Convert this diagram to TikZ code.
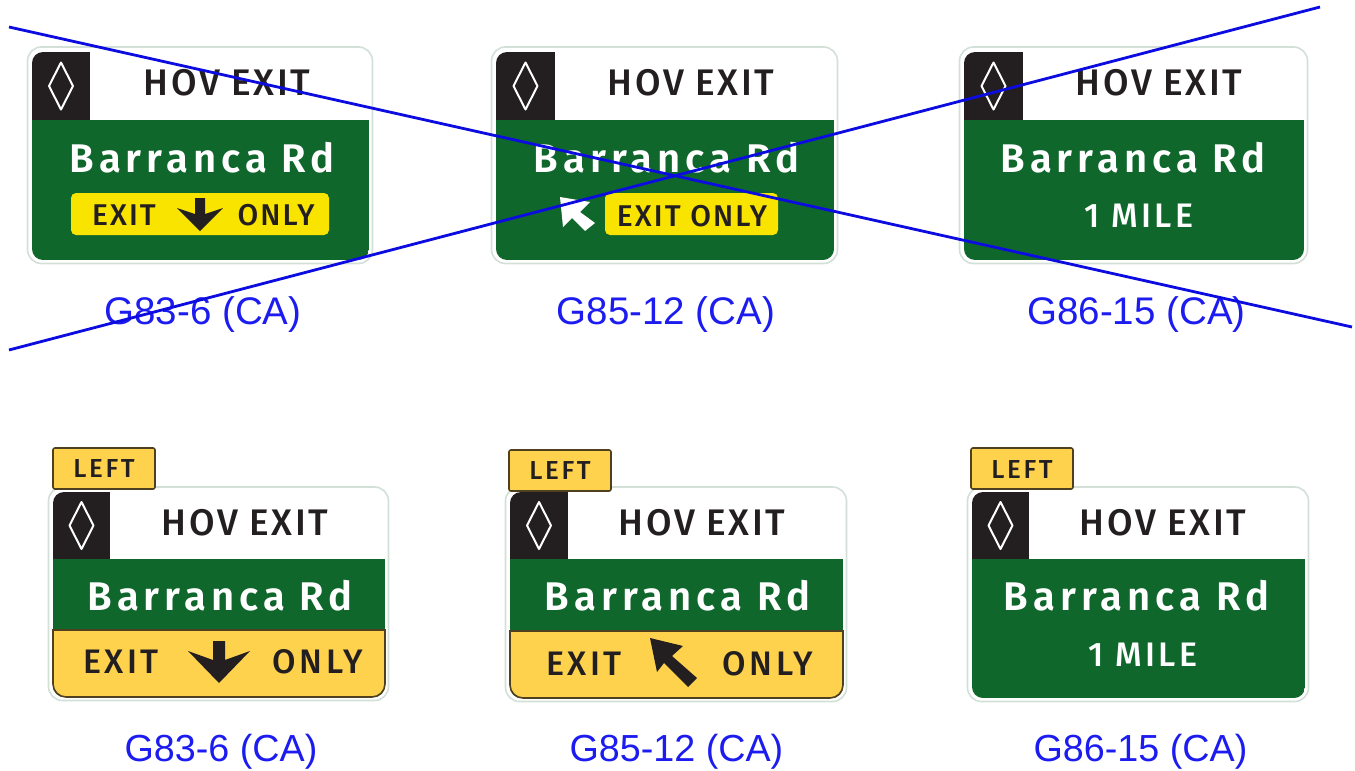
\documentclass[tikz,border=0pt]{standalone}
\usepackage{fontspec}
\setmainfont{Fira Sans Medium}
\newfontfamily\capfont{Liberation Sans}
\newfontfamily\roadfont{Fira Sans SemiBold}[LetterSpace=12.5]
\newfontfamily\hovfont{Fira Sans Medium}[LetterSpace=7]
\newfontfamily\smallfont{Fira Sans Medium}[LetterSpace=7]
\newfontfamily\widefont{Fira Sans Medium}[LetterSpace=10]
\definecolor{signgreen}{HTML}{0F672C}
\definecolor{signyellow}{HTML}{F9E400}
\definecolor{signamber}{HTML}{FFD24D}
\definecolor{signblack}{HTML}{231F20}
\definecolor{signedge}{HTML}{D3E0D8}
\definecolor{signbrown}{HTML}{4F4020}
\definecolor{capblue}{HTML}{1C1CF0}
\definecolor{crossblue}{HTML}{0C0CE0}
\tikzset{
  outerframe/.style={draw=signedge,line width=1.6pt,fill=white,rounded corners=14pt},
  hovtext/.style={anchor=base,inner sep=0pt,text=signblack,font=\hovfont\fontsize{37}{41}\selectfont},
  roadtext/.style={anchor=base,inner sep=0pt,text=white,font=\roadfont\fontsize{40}{44}\selectfont},
  exittext/.style={anchor=base,inner sep=0pt,text=signblack,font=\smallfont\fontsize{30}{34}\selectfont},
  exitlarge/.style={anchor=base,inner sep=0pt,text=signblack,font=\widefont\fontsize{34}{38}\selectfont},
  miletext/.style={anchor=base,inner sep=0pt,text=white,font=\widefont\fontsize{34}{38}\selectfont},
  lefttext/.style={anchor=base,inner sep=0pt,text=signblack,font=\widefont\fontsize{26}{29}\selectfont},
  captext/.style={anchor=base,inner sep=0pt,text=capblue,font=\capfont\fontsize{38.5}{42}\selectfont},
  captextlow/.style={anchor=base,inner sep=0pt,text=capblue,font=\capfont\fontsize{37.7}{42}\selectfont},
  crossline/.style={draw=crossblue,line width=2.8pt},
  yellowpanel/.style={fill=signyellow,rounded corners=5pt},
  tabbox/.style={fill=signamber,draw=signbrown,line width=1.6pt,rounded corners=2pt},
  hovdiamond/.style={draw=white,line width=2pt,line join=round},
}
% #1 x0, #2 y0, #3 x1, #4 y1, #5 right edge of the black box, #6 top of the green
\newcommand{\signbase}[6]{%
  \path[outerframe] (#1-4.5,#2-5) rectangle (#3+3.5,#4+3.5);
  \begin{scope}
    \clip[rounded corners=11pt] (#1,#2) rectangle (#3,#4);
    \fill[signgreen] (#1,#6) rectangle (#3,#4);
    \fill[signblack] (#1,#2) rectangle (#5,#6);
  \end{scope}
  \draw[hovdiamond] ({(#1+#5)/2},{(#2+#6)/2-23.5}) -- ({(#1+#5)/2+12},{(#2+#6)/2}) -- ({(#1+#5)/2},{(#2+#6)/2+23.5}) -- ({(#1+#5)/2-12},{(#2+#6)/2}) -- cycle;
}
% amber lower panel: #1 x0, #2 top, #3 x1, #4 bottom
\newcommand{\amberpanel}[4]{%
  \filldraw[fill=signamber,draw=signbrown,line width=1.6pt,rounded corners=13pt] (#1,#2) [sharp corners] -- (#1,#2) [rounded corners=13pt] -- (#1,#4) -- (#3,#4) [sharp corners] -- (#3,#2) -- cycle;
}
\begin{document}
\begin{tikzpicture}[x=1pt,y=-1pt]
\useasboundingbox (0,0) rectangle (1355,771);
\fill[white] (0,0) rectangle (1355,771);

% --- top row ---
\signbase{32}{52}{369}{260}{90}{120}
\node[hovtext] (hovA) at (227,95) {HOV EXIT};
\node[roadtext] (roadA) at (202,172) {Barranca Rd};
\fill[yellowpanel] (71,193) rectangle (329,235);
\node[exittext] (exitA) at (124,225) {EXIT};
\node[exittext] (onlyA) at (276,225) {ONLY};
\fill[signblack] (195,198) -- (205,198) -- (205,214) -- (223,208) -- (200,231) -- (177,208) -- (195,214) -- cycle;
\node[captext] (capA) at (203,324) {G83-6 (CA)};

\signbase{496}{52}{834}{260}{555}{120}
\node[hovtext] (hovB) at (691,95) {HOV EXIT};
\node[roadtext] (roadB) at (666.5,172) {Barranca Rd};
\fill[white] (560,197) -- (590,202) -- (580,212) -- (595,223) -- (585,231) -- (572,218) -- (563,227) -- cycle;
\fill[yellowpanel] (605,193) rectangle (778,235);
\node[exittext] (exitB) at (692,226) {EXIT ONLY};
\node[captext] (capB) at (666,324) {G85-12 (CA)};

\signbase{964}{52}{1304}{260}{1023}{120}
\node[hovtext] (hovC) at (1159,95) {HOV EXIT};
\node[roadtext] (roadC) at (1133,172) {Barranca Rd};
\node[miletext] (mileC) at (1139,227) {1 MILE};
\node[captext] (capC) at (1136.5,324) {G86-15 (CA)};

% --- bottom row ---
\signbase{53}{492}{385}{697}{110}{559}
\amberpanel{53}{630}{385}{697}
\draw[tabbox] (53,448) rectangle (155,489);
\node[lefttext] (leftD) at (104,477) {LEFT};
\node[hovtext] (hovD) at (245,535) {HOV EXIT};
\node[roadtext] (roadD) at (220,610) {Barranca Rd};
\node[exitlarge] (exitD) at (121,673) {EXIT};
\node[exitlarge] (onlyD) at (318,673) {ONLY};
\fill[signblack] (213,641) -- (225,641) -- (225,660) -- (250,651) -- (219,683) -- (188,651) -- (213,660) -- cycle;
\node[captextlow] (capD) at (221,761) {G83-6 (CA)};

\signbase{510}{492}{843}{698}{568}{559}
\amberpanel{510}{631}{843}{698}
\draw[tabbox] (509,450) rectangle (611,491);
\node[lefttext] (leftE) at (560,479) {LEFT};
\node[hovtext] (hovE) at (702,535) {HOV EXIT};
\node[roadtext] (roadE) at (677.5,610) {Barranca Rd};
\node[exitlarge] (exitE) at (584,675) {EXIT};
\node[exitlarge] (onlyE) at (768,675) {ONLY};
\fill[signblack] (650,638) -- (683,646) -- (672,656) -- (697,678) -- (688,687) -- (664,663) -- (657,672) -- cycle;
\node[captextlow] (capE) at (676.5,761) {G85-12 (CA)};

\signbase{972}{492}{1305}{698}{1029}{559}
\draw[tabbox] (971,448) rectangle (1073,489);
\node[lefttext] (leftF) at (1022,478) {LEFT};
\node[hovtext] (hovF) at (1163,535) {HOV EXIT};
\node[roadtext] (roadF) at (1136.5,610) {Barranca Rd};
\node[miletext] (mileF) at (1143,666) {1 MILE};
\node[captextlow] (capF) at (1140.5,761) {G86-15 (CA)};

% --- crossing-out lines ---
\coordinate (crossAstart) at (9,27);
\coordinate (crossAend) at (1352,327);
\coordinate (crossBstart) at (9,350);
\coordinate (crossBend) at (1320,7);
\draw[crossline] (crossAstart) -- (crossAend);
\draw[crossline] (crossBstart) -- (crossBend);
\end{tikzpicture}
\end{document}
